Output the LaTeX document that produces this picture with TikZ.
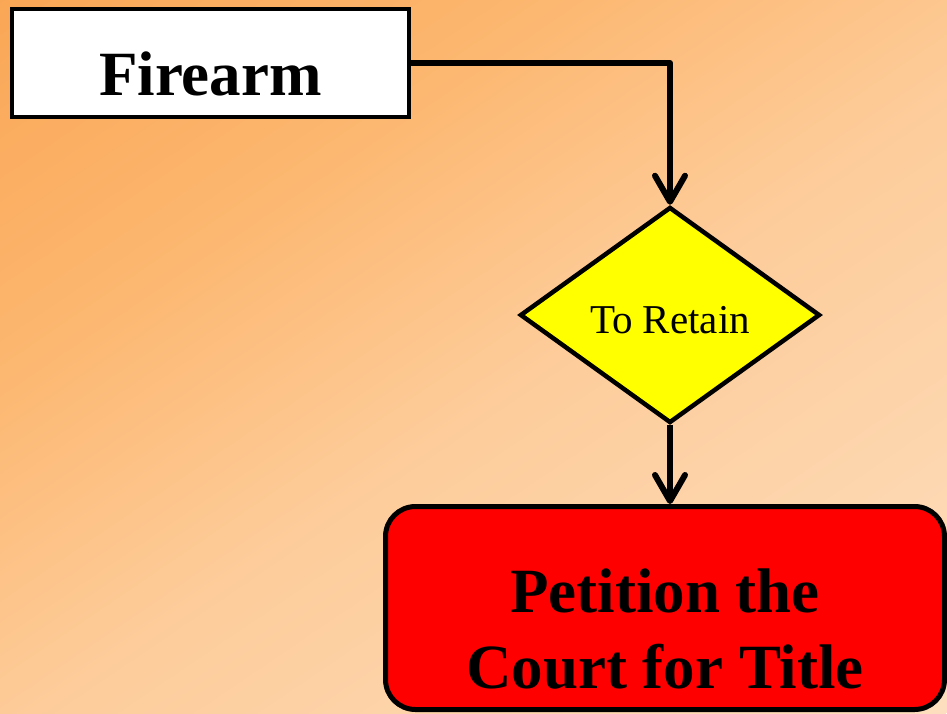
\documentclass[tikz,border=0pt]{standalone}
\usepackage{fontspec}
\setmainfont{Liberation Serif}
\usetikzlibrary{arrows.meta,shapes.geometric}

% background tones, from deep orange to pale cream
\definecolor{bgA}{RGB}{244,136,24}
\definecolor{bgB}{RGB}{247,150,46}
\definecolor{bgC}{RGB}{250,168,88}
\definecolor{bgD}{RGB}{252,182,110}
\definecolor{bgE}{RGB}{253,196,138}
\definecolor{bgF}{RGB}{253,204,154}
\definecolor{bgG}{RGB}{253,226,198}
\definecolor{bgH}{RGB}{254,238,222}
\definecolor{termred}{RGB}{255,0,0}
\definecolor{decyellow}{RGB}{255,255,0}

\pgfdeclarehorizontalshading{bgshade}{100bp}{%
  color(0bp)=(bgA); color(11bp)=(bgB); color(26bp)=(bgC); color(38bp)=(bgD);
  color(47bp)=(bgE); color(52bp)=(bgF); color(80bp)=(bgG); color(100bp)=(bgH)}

\tikzset{
  startbox/.style={draw=black, line width=4.5pt, fill=white, rectangle,
    minimum width=397pt, minimum height=108pt, inner sep=0pt,
    font=\fontsize{63}{75}\selectfont\bfseries},
  decision/.style={draw=black, line width=4.5pt, fill=decyellow, diamond,
    minimum width=300pt, minimum height=216pt, inner sep=0pt,
    font=\fontsize{41}{49}\selectfont},
  endbox/.style={draw=black, line width=5pt, fill=termred, rectangle,
    rounded corners=30pt, minimum width=559pt, minimum height=203pt, inner sep=0pt,
    font=\fontsize{63}{76}\selectfont\bfseries},
  flow/.style={draw=black, line width=6pt, line join=round,
    -{Straight Barb[length=26pt,width=30pt,round]}}
}

\begin{document}
\begin{tikzpicture}[x=1pt,y=-1pt]
  \useasboundingbox (0,0) rectangle (947,713);

  % diagonal orange-to-cream backdrop
  \begin{scope}
    \clip (0,0) rectangle (947,713);
    \begin{scope}[transform canvas={rotate=-55.8}]
      \shade[shading=bgshade] (0,-1400) rectangle (1122,1400);
    \end{scope}
  \end{scope}

  % flowchart nodes
  \node[startbox] (fa) at (210.5,63) {\raisebox{-32pt}[0pt][0pt]{Firearm}};
  \node[decision] (dm) at (670,315) {\raisebox{-18pt}[0pt][0pt]{To Retain}};
  \node[endbox] (pt) at (665,608)
    {\raisebox{-4pt}[0pt][0pt]{\begin{tabular}[t]{@{}c@{}}Petition the\\Court for Title\end{tabular}}};

  % connectors
  \draw[flow] (fa.east) -| (dm.north);
  \draw[flow] (dm.south) -- (dm.south |- pt.north);
\end{tikzpicture}
\end{document}
